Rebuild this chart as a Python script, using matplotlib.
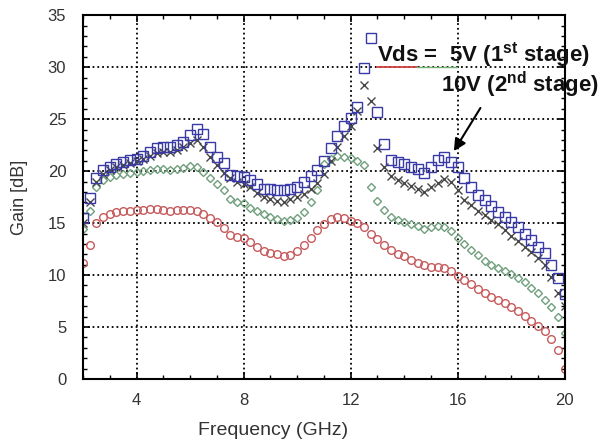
import numpy as np
import matplotlib
matplotlib.use("Agg")
import matplotlib.pyplot as plt

plt.rcParams['font.family'] = ['Liberation Sans', 'DejaVu Sans']
plt.rcParams['mathtext.fontset'] = 'custom'
plt.rcParams['mathtext.rm'] = 'Liberation Sans'
plt.rcParams['mathtext.bf'] = 'Liberation Sans:bold'

# frequency sweep (GHz), 0.25 GHz step
freq = np.arange(2.0, 20.25, 0.25)

# gain curves [dB], one row per GHz
gain_blue = [15.5, 17.4, 19.3, 20.1,
             20.4, 20.7, 20.9, 21.05,
             21.2, 21.5, 21.85, 22.2,
             22.3, 22.3, 22.5, 22.8,
             23.5, 24.1, 23.6, 22.3,
             21.4, 20.8, 19.6, 19.5,
             19.4, 19.1, 18.8, 18.3,
             18.3, 18.2, 18.2, 18.3,
             18.5, 19.0, 19.5, 20.1,
             21.0, 22.2, 23.4, 24.3,
             25.1, 26.2, 29.9, 32.8,
             25.7, 22.6, 21.1, 20.9,
             20.7, 20.4, 20.2, 19.8,
             20.4, 21.1, 21.4, 20.9,
             20.4, 19.3, 18.5, 17.7,
             17.2, 16.6, 16.1, 15.6,
             15.1, 14.6, 14.0, 13.4,
             12.7, 12.1, 11.0, 9.7,
             8.2]
gain_black = [15.0, 17.0, 19.0, 19.7,
              20.1, 20.4, 20.6, 20.8,
              21.0, 21.2, 21.5, 21.7,
              21.8, 21.8, 22.0, 22.3,
              22.7, 23.0, 22.3, 21.4,
              20.6, 19.8, 19.3, 19.0,
              18.8, 18.5, 17.9, 17.5,
              17.3, 17.1, 17.0, 17.3,
              17.5, 17.8, 18.3, 18.9,
              19.7, 21.0, 22.3, 23.4,
              24.3, 25.8, 28.3, 26.7,
              22.2, 20.4, 19.5, 19.1,
              18.9, 18.6, 18.3, 18.0,
              18.5, 18.9, 19.2, 19.0,
              18.2, 17.2, 16.7, 16.2,
              15.8, 15.3, 14.9, 14.3,
              13.8, 13.3, 12.7, 12.2,
              11.6, 11.0, 9.8, 8.3,
              7.0]
gain_green = [14.4, 16.2, 18.5, 19.1,
              19.4, 19.6, 19.7, 19.8,
              19.9, 20.0, 20.1, 20.2,
              20.2, 20.1, 20.2, 20.3,
              20.5, 20.4, 19.9, 19.3,
              18.8, 18.2, 17.3, 17.0,
              16.9, 16.5, 16.2, 15.9,
              15.6, 15.4, 15.2, 15.3,
              15.5, 16.1, 17.0, 18.2,
              20.7, 21.2, 21.5, 21.4,
              21.3, 21.0, 20.6, 18.5,
              17.1, 16.3, 15.6, 15.3,
              15.1, 14.9, 14.7, 14.4,
              14.6, 14.7, 14.6, 14.2,
              13.6, 13.0, 12.4, 11.9,
              11.4, 11.0, 10.7, 10.4,
              10.1, 9.7, 9.3, 8.8,
              8.3, 7.6, 6.9, 6.0,
              4.4]
gain_red = [11.2, 12.9, 15.0, 15.6,
            15.9, 16.1, 16.2, 16.2,
            16.3, 16.3, 16.4, 16.4,
            16.3, 16.2, 16.3, 16.3,
            16.3, 16.2, 15.9, 15.5,
            15.1, 14.5, 13.9, 13.7,
            13.6, 13.2, 12.7, 12.3,
            12.1, 12.0, 11.8, 11.9,
            12.3, 12.9, 13.6, 14.3,
            14.9, 15.4, 15.6, 15.5,
            15.2, 15.0, 14.6, 14.0,
            13.5, 12.9, 12.4, 12.0,
            11.8, 11.5, 11.2, 11.0,
            10.8, 10.8, 10.7, 10.4,
            9.9, 9.5, 9.1, 8.7,
            8.3, 7.9, 7.6, 7.3,
            6.9, 6.5, 6.1, 5.6,
            5.1, 4.6, 3.9, 2.8,
            1.0]

fig = plt.figure(figsize=(6.10, 4.47), dpi=100)
ax = fig.add_axes([0.136, 0.152, 0.790, 0.814])

ax.plot(freq, gain_red, ls='none', marker='o', ms=5.5, mfc='none', mec='#c65a5c', mew=1.0)
ax.plot(freq, gain_green, ls='none', marker='D', ms=4.2, mfc='none', mec='#6f9f7c', mew=1.0)
ax.plot(freq, gain_black, ls='none', marker='x', ms=5.5, color='#474747', mew=1.0)
ax.plot(freq, gain_blue, ls='none', marker='s', ms=6.5, mfc='none', mec='#3a3aa6', mew=1.0)

ax.set_xlim(2, 20)
ax.set_ylim(0, 35)
ax.set_xticks([4, 8, 12, 16, 20])
ax.set_yticks(np.arange(0, 36, 5))
ax.set_xticks(np.arange(2, 21, 1), minor=True)
ax.set_yticks(np.arange(0, 36, 1), minor=True)
ax.grid(True, which='major', color='black', ls=':', lw=1.3)
ax.tick_params(which='both', direction='in', top=True, right=True, colors='black',
               labelcolor='#333333', labelsize=12)
ax.tick_params(which='major', length=5, width=1.2)
ax.tick_params(which='minor', length=3, width=1.0)
ax.tick_params(axis='y', pad=12)
ax.tick_params(axis='x', pad=10)
for s in ax.spines.values():
    s.set_linewidth(1.5)

ax.set_xlabel('Frequency (GHz)', fontsize=14, color='#333333')
ax.xaxis.set_label_coords(0.394, -0.118)
ax.set_ylabel('Gain [dB]', fontsize=13, color='#333333')
ax.yaxis.set_label_coords(-0.114, 0.5)

# coloured strokes under the annotation text
ax.axhline(30, xmin=0.61, xmax=0.693, color='#d04040', lw=1.3)
ax.axhline(30, xmin=0.693, xmax=0.776, color='#70b070', lw=1.0)

ax.text(13.0, 30.5, r'Vds =  5V (1$^{\mathbf{st}}$ stage)', fontsize=16, fontweight='bold',
        color='#111111', ha='left', va='baseline', clip_on=False)
ax.text(15.38, 27.6, r'10V (2$^{\mathbf{nd}}$ stage)', fontsize=16, fontweight='bold',
        color='#111111', ha='left', va='baseline', clip_on=False)
ax.annotate('', xy=(15.8, 21.7), xytext=(16.9, 26.3),
            arrowprops=dict(arrowstyle='-|>', color='black', lw=1.5, mutation_scale=18))

fig.savefig('out.png', dpi=100)
